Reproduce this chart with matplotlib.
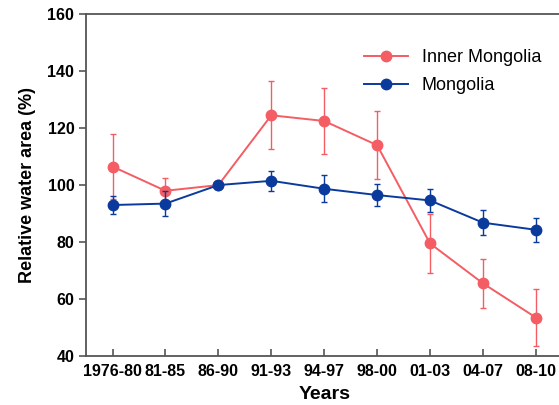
import numpy as np
import matplotlib.pyplot as plt

plt.rcParams['font.family'] = ['Liberation Sans', 'DejaVu Sans']

periods = ['1976-80', '81-85', '86-90', '91-93', '94-97', '98-00', '01-03', '04-07', '08-10']
inner = [106.5, 98.0, 100.0, 124.5, 122.5, 114.0, 79.5, 65.5, 53.5]
inner_err = [11.5, 4.5, 0.0, 12.0, 11.5, 12.0, 10.3, 8.5, 10.0]
mongolia = [93.0, 93.5, 100.0, 101.5, 98.7, 96.5, 94.6, 86.8, 84.3]
mongolia_err = [3.0, 4.3, 0.0, 3.5, 4.7, 4.0, 4.0, 4.3, 4.3]

red = '#f35d63'
blue = '#0a3a9c'

fig = plt.figure(figsize=(5.59, 4.05), dpi=100)
ax = fig.add_axes([0.154, 0.121, 0.852, 0.844])
x = np.arange(len(periods))

ax.errorbar(x, inner, yerr=inner_err, color=red, marker='o', markersize=7.5,
            linewidth=1.4, elinewidth=1.0, capsize=2.5, capthick=1.0,
            label='Inner Mongolia', zorder=3)
ax.errorbar(x, mongolia, yerr=mongolia_err, color=blue, marker='o', markersize=7.5,
            linewidth=1.4, elinewidth=1.0, capsize=2.5, capthick=1.0,
            label='Mongolia', zorder=4)

ax.set_xlim(-0.5, 8.5)
ax.set_ylim(40, 160)
ax.set_xticks(x)
ax.set_xticklabels(periods, fontsize=11.5, fontweight='bold')
ax.set_yticks(np.arange(40, 161, 20))
ax.tick_params(axis='y', direction='out', length=5, width=1.2, labelsize=11.5, colors='#555555', labelcolor='black')
ax.tick_params(axis='x', direction='in', length=5, width=1.2, colors='#555555', labelcolor='black', pad=6)
for lbl in ax.get_yticklabels():
    lbl.set_fontweight('bold')
for side in ['left', 'bottom', 'top', 'right']:
    ax.spines[side].set_color('#555555')
    ax.spines[side].set_linewidth(1.3)

ax.set_xlabel('Years', fontsize=14, fontweight='bold', labelpad=5)
ax.set_ylabel('Relative water area (%)', fontsize=13, fontweight='bold', labelpad=8)

handles, labels = ax.get_legend_handles_labels()
handles = [h[0] for h in handles]
ax.legend(handles, labels, loc='upper right', bbox_to_anchor=(0.99, 0.945),
          frameon=False, fontsize=13, handlelength=2.4, labelspacing=0.6)

fig.savefig('out.png', dpi=100)
